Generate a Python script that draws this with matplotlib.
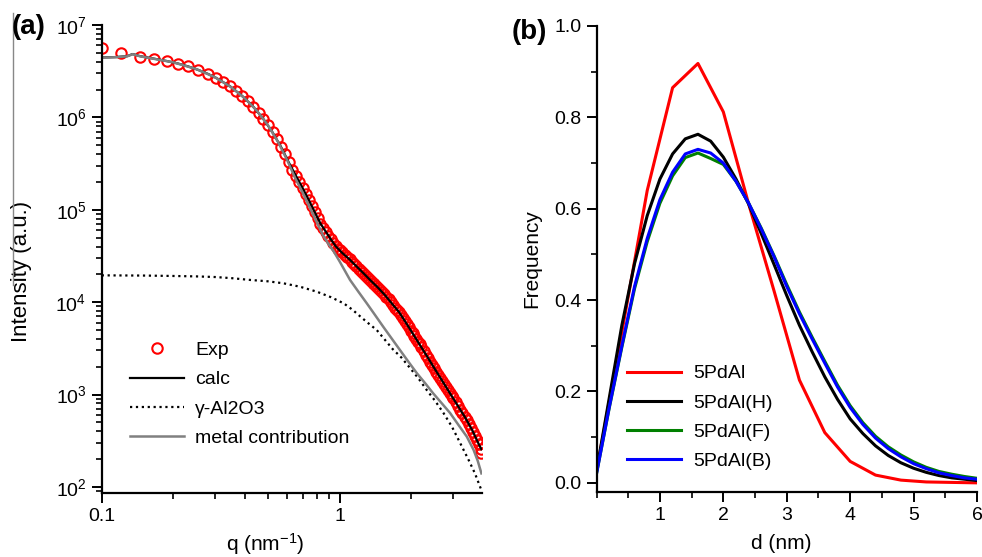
import matplotlib
matplotlib.use('Agg')
import matplotlib.pyplot as plt
from matplotlib.ticker import FixedLocator, LogLocator, FuncFormatter, MultipleLocator
from matplotlib.lines import Line2D
import numpy as np

plt.rcParams['font.family'] = ['Liberation Sans', 'DejaVu Sans']
plt.rcParams['mathtext.default'] = 'regular'

# ---- panel (a): SAXS intensity ----
q_exp = [0.100, 0.121, 0.145, 0.166, 0.188, 0.209, 0.231, 0.254, 0.280,
         0.302, 0.324, 0.346, 0.368, 0.390, 0.412, 0.434, 0.456, 0.478, 0.500,
         0.522, 0.544, 0.566, 0.588, 0.610, 0.632, 0.654, 0.676, 0.698, 0.720,
         0.742, 0.764, 0.786, 0.808, 0.830, 0.852, 0.874, 0.896, 0.918, 0.940,
         0.962, 0.984,
         1.000, 1.025, 1.050, 1.075, 1.100, 1.125, 1.150, 1.175, 1.200, 1.225,
         1.250, 1.275, 1.300, 1.325, 1.350, 1.375, 1.400, 1.425, 1.450, 1.475, 1.500,
         1.535, 1.570, 1.605, 1.640, 1.675, 1.710, 1.745, 1.780, 1.815, 1.850,
         1.885, 1.920, 1.955, 1.990, 2.025, 2.060, 2.095, 2.130, 2.165, 2.200,
         2.25, 2.30, 2.35, 2.40, 2.45, 2.50, 2.55, 2.60, 2.65, 2.70, 2.75, 2.80,
         2.85, 2.90, 2.95, 3.00,
         3.07, 3.14, 3.21, 3.28, 3.35, 3.42, 3.49, 3.56, 3.63, 3.70, 3.77, 3.84,
         3.91, 3.94]
I_exp = [5.6e6, 5.0e6, 4.54e6, 4.32e6, 4.07e6, 3.83e6, 3.56e6, 3.27e6, 2.95e6,
         2.68e6, 2.42e6, 2.17e6, 1.93e6, 1.70e6, 1.49e6, 1.30e6, 1.12e6, 9.6e5, 8.2e5,
         6.9e5, 5.8e5, 4.83e5, 4.0e5, 3.28e5, 2.72e5, 2.34e5, 2.0e5, 1.72e5, 1.48e5,
         1.27e5, 1.10e5, 9.4e4, 8.1e4, 7.1e4, 6.4e4, 5.8e4, 5.26e4, 4.78e4, 4.34e4,
         4.03e4, 3.78e4,
         3.70e4, 3.47e4, 3.27e4, 3.08e4, 2.90e4, 2.74e4, 2.58e4, 2.44e4, 2.31e4, 2.19e4,
         2.08e4, 1.98e4, 1.88e4, 1.79e4, 1.71e4, 1.63e4, 1.56e4, 1.49e4, 1.42e4, 1.36e4, 1.30e4,
         1.22e4, 1.15e4, 1.07e4, 1.0e4, 9.33e3, 8.75e3, 8.28e3, 7.74e3, 7.24e3, 6.74e3,
         6.22e3, 5.75e3, 5.33e3, 4.93e3, 4.59e3, 4.28e3, 3.99e3, 3.73e3, 3.49e3, 3.26e3,
         2.97e3, 2.71e3, 2.48e3, 2.27e3, 2.08e3, 1.92e3, 1.77e3, 1.63e3, 1.51e3, 1.40e3, 1.30e3, 1.20e3,
         1.12e3, 1.04e3, 971, 906,
         824, 751, 687, 628, 577, 529, 482, 437, 393, 354, 318, 288,
         260, 234]

q_calc = [0.100, 0.115, 0.128, 0.135, 0.145, 0.166, 0.188, 0.209, 0.231, 0.254,
          0.280, 0.302, 0.346, 0.390, 0.434, 0.478, 0.522, 0.566, 0.610, 0.654,
          0.698, 0.742, 0.786, 0.830, 0.874, 0.918, 0.962, 1.02, 1.10, 1.18,
          1.26, 1.35, 1.45, 1.55, 1.66, 1.78, 1.90, 2.04, 2.18, 2.34,
          2.50, 2.70, 2.90, 3.12, 3.36, 3.60, 3.84, 3.94]
I_calc = [4.45e6, 4.5e6, 4.6e6, 4.85e6, 4.6e6, 4.32e6, 4.07e6, 3.83e6, 3.56e6, 3.27e6,
          2.95e6, 2.68e6, 2.17e6, 1.70e6, 1.30e6, 9.6e5, 6.9e5, 4.83e5, 3.28e5, 2.34e5,
          1.72e5, 1.27e5, 9.4e4, 7.1e4, 5.8e4, 4.78e4, 4.03e4, 3.45e4, 2.9e4, 2.42e4,
          2.05e4, 1.71e4, 1.43e4, 1.19e4, 9.6e3, 7.74e3, 5.96e3, 4.46e3, 3.39e3, 2.54e3,
          1.92e3, 1.40e3, 1.04e3, 771, 569, 414, 290, 255]

q_al = [0.10, 0.15, 0.20, 0.25, 0.30, 0.35, 0.42, 0.50, 0.58, 0.68,
        0.80, 0.92, 1.04, 1.13, 1.22, 1.32, 1.43, 1.55, 1.67, 1.82,
        1.97, 2.14, 2.32, 2.52, 2.73, 2.96, 3.21, 3.50, 3.70, 3.94]
I_al = [1.95e4, 1.94e4, 1.92e4, 1.9e4, 1.87e4, 1.82e4, 1.74e4, 1.68e4, 1.6e4, 1.47e4,
        1.3e4, 1.13e4, 9.7e3, 8.3e3, 7.0e3, 5.9e3, 5.0e3, 3.9e3, 3.1e3, 2.5e3,
        1.95e3, 1.5e3, 1.12e3, 850, 630, 450, 297, 190, 140, 92]

q_metal = [0.100, 0.115, 0.128, 0.135, 0.145, 0.166, 0.20, 0.25, 0.30, 0.35,
           0.40, 0.45, 0.50, 0.55, 0.60, 0.65, 0.70, 0.75, 0.80, 0.85,
           0.90, 0.94, 1.00, 1.105, 1.20, 1.30, 1.40, 1.525, 1.65, 1.79,
           1.95, 2.11, 2.30, 2.47, 2.70, 2.91, 3.15, 3.42, 3.65, 3.80, 3.94]
I_metal = [4.43e6, 4.48e6, 4.58e6, 4.83e6, 4.58e6, 4.3e6, 3.94e6, 3.33e6, 2.71e6, 2.12e6,
           1.60e6, 1.17e6, 8.2e5, 5.45e5, 3.5e5, 2.2e5, 1.52e5, 1.05e5, 7.4e4, 5.3e4,
           4.2e4, 3.6e4, 2.75e4, 1.74e4, 1.29e4, 9.7e3, 7.4e3, 5.4e3, 4.07e3, 3.04e3,
           2.24e3, 1.7e3, 1.3e3, 1.03e3, 790, 630, 471, 350, 252, 192, 140]

# ---- panel (b): size distributions ----
d_red = [0.0, 0.4, 0.8, 1.2, 1.6, 2.0, 2.4, 2.8, 3.2, 3.6, 4.0, 4.4, 4.8, 5.2, 5.6, 6.0]
f_red = [0.025, 0.33, 0.64, 0.865, 0.918, 0.812, 0.61, 0.42, 0.225, 0.11, 0.047,
         0.017, 0.006, 0.002, 0.001, 0.0]

d_grid = [0.0, 0.2, 0.4, 0.6, 0.8, 1.0, 1.2, 1.4, 1.6, 1.8, 2.0, 2.2, 2.4, 2.6, 2.8,
          3.0, 3.2, 3.4, 3.6, 3.8, 4.0, 4.2, 4.4, 4.6, 4.8, 5.0, 5.2, 5.4, 5.6, 5.8, 6.0]
f_H = [0.025, 0.185, 0.345, 0.48, 0.585, 0.665, 0.72, 0.753, 0.763, 0.748, 0.713, 0.665,
       0.61, 0.545, 0.478, 0.41, 0.345, 0.287, 0.232, 0.183, 0.14, 0.108, 0.081, 0.06,
       0.044, 0.032, 0.023, 0.016, 0.011, 0.008, 0.005]
f_F = [0.02, 0.163, 0.297, 0.425, 0.528, 0.612, 0.672, 0.712, 0.722, 0.71, 0.697, 0.66,
       0.612, 0.557, 0.497, 0.434, 0.374, 0.319, 0.266, 0.214, 0.169, 0.132, 0.102, 0.079,
       0.061, 0.046, 0.034, 0.025, 0.019, 0.014, 0.010]
f_B = [0.02, 0.165, 0.30, 0.43, 0.535, 0.62, 0.68, 0.72, 0.73, 0.722, 0.70, 0.66,
       0.612, 0.555, 0.495, 0.43, 0.37, 0.315, 0.262, 0.21, 0.165, 0.128, 0.098, 0.075,
       0.057, 0.042, 0.031, 0.022, 0.016, 0.011, 0.008]

fig = plt.figure(figsize=(9.82, 5.57), dpi=100)
W, H = 982.0, 557.0
ax1 = fig.add_axes([101.7 / W, 1 - 492.5 / H, 380.0 / W, 467.5 / H])
ax2 = fig.add_axes([596.5 / W, 1 - 492.0 / H, 380.5 / W, 466.0 / H])

for ax in (ax1, ax2):
    for s in ('top', 'right'):
        ax.spines[s].set_visible(False)
    for s in ('left', 'bottom'):
        ax.spines[s].set_linewidth(1.6)
    ax.tick_params(which='major', direction='out', length=7, width=1.4, labelsize=14, pad=4)
    ax.tick_params(which='minor', direction='out', length=4, width=1.2)

# (a)
ax1.plot(q_exp, I_exp, 'o', ms=7.5, mfc='none', mec='red', mew=1.5, label='Exp')
ax1.plot(q_calc, I_calc, '-', color='black', lw=1.6, label='calc')
ax1.plot(q_al, I_al, ':', color='black', lw=1.6, label='γ-Al2O3')
ax1.plot(q_metal, I_metal, '-', color='#808080', lw=1.8, label='metal contribution')
ax1.set_xscale('log')
ax1.set_yscale('log')
ax1.set_xlim(0.1, 3.95)
ax1.set_ylim(87, 1e7)
ax1.xaxis.set_major_locator(FixedLocator([0.1, 1]))
ax1.xaxis.set_major_formatter(FuncFormatter(lambda v, p: '0.1' if v < 0.5 else '1'))
ax1.xaxis.set_minor_locator(LogLocator(base=10, subs=np.arange(2, 10), numticks=20))
ax1.yaxis.set_major_locator(FixedLocator([1e2, 1e3, 1e4, 1e5, 1e6, 1e7]))
ax1.yaxis.set_major_formatter(FuncFormatter(lambda v, p: r'$10^{%d}$' % round(np.log10(v))))
ax1.yaxis.set_minor_locator(LogLocator(base=10, subs=np.arange(2, 10), numticks=20))
ax1.set_xlabel(r'q (nm$^{-1}$)', fontsize=15)
ax1.set_ylabel('Intensity (a.u.)', fontsize=16)
ax1.xaxis.set_label_coords(0.43, -0.11)
ax1.xaxis.label.set_va('center')
ax1.yaxis.set_label_coords(-0.21, 0.472)
ax1.yaxis.label.set_va('center')
ax1.legend(loc='upper left', bbox_to_anchor=(0.0745, 0.323), frameon=False, fontsize=14,
           handlelength=2.8, handletextpad=0.55, labelspacing=0.6, borderpad=0,
           borderaxespad=0, numpoints=1)

# (b)
ax2.plot(d_red, f_red, color='red', lw=2.2, label='5PdAl')
ax2.plot(d_grid, f_H, color='black', lw=2.2, label='5PdAl(H)')
ax2.plot(d_grid, f_F, color='green', lw=2.2, label='5PdAl(F)')
ax2.plot(d_grid, f_B, color='blue', lw=2.2, label='5PdAl(B)')
ax2.set_xlim(0, 6)
ax2.set_ylim(-0.02, 1.0)
ax2.xaxis.set_major_locator(FixedLocator([1, 2, 3, 4, 5, 6]))
ax2.xaxis.set_minor_locator(MultipleLocator(0.5))
ax2.yaxis.set_major_locator(FixedLocator([0.0, 0.2, 0.4, 0.6, 0.8, 1.0]))
ax2.yaxis.set_major_formatter(FuncFormatter(lambda v, p: '%.1f' % v))
ax2.yaxis.set_minor_locator(MultipleLocator(0.1))
ax2.set_xlabel('d (nm)', fontsize=15)
ax2.set_ylabel('Frequency', fontsize=15)
ax2.xaxis.set_label_coords(0.486, -0.11)
ax2.xaxis.label.set_va('center')
ax2.yaxis.set_label_coords(-0.17, 0.5)
ax2.yaxis.label.set_va('center')
ax2.legend(loc='upper left', bbox_to_anchor=(0.08, 0.273), frameon=False, fontsize=14,
           handlelength=2.8, handletextpad=0.6, labelspacing=0.6, borderpad=0,
           borderaxespad=0)

fig.text(12 / W, 1 - 27 / H, '(a)', fontsize=20, fontweight='bold', va='center', ha='left')
fig.text(512 / W, 1 - 32 / H, '(b)', fontsize=20, fontweight='bold', va='center', ha='left')

# thin grey edge line seen at the far left of the original
fig.add_artist(Line2D([12.5 / W, 12.5 / W], [1 - 13 / H, 1 - 285 / H], color='#888888', lw=1.0))

fig.savefig('out.png', dpi=100)
